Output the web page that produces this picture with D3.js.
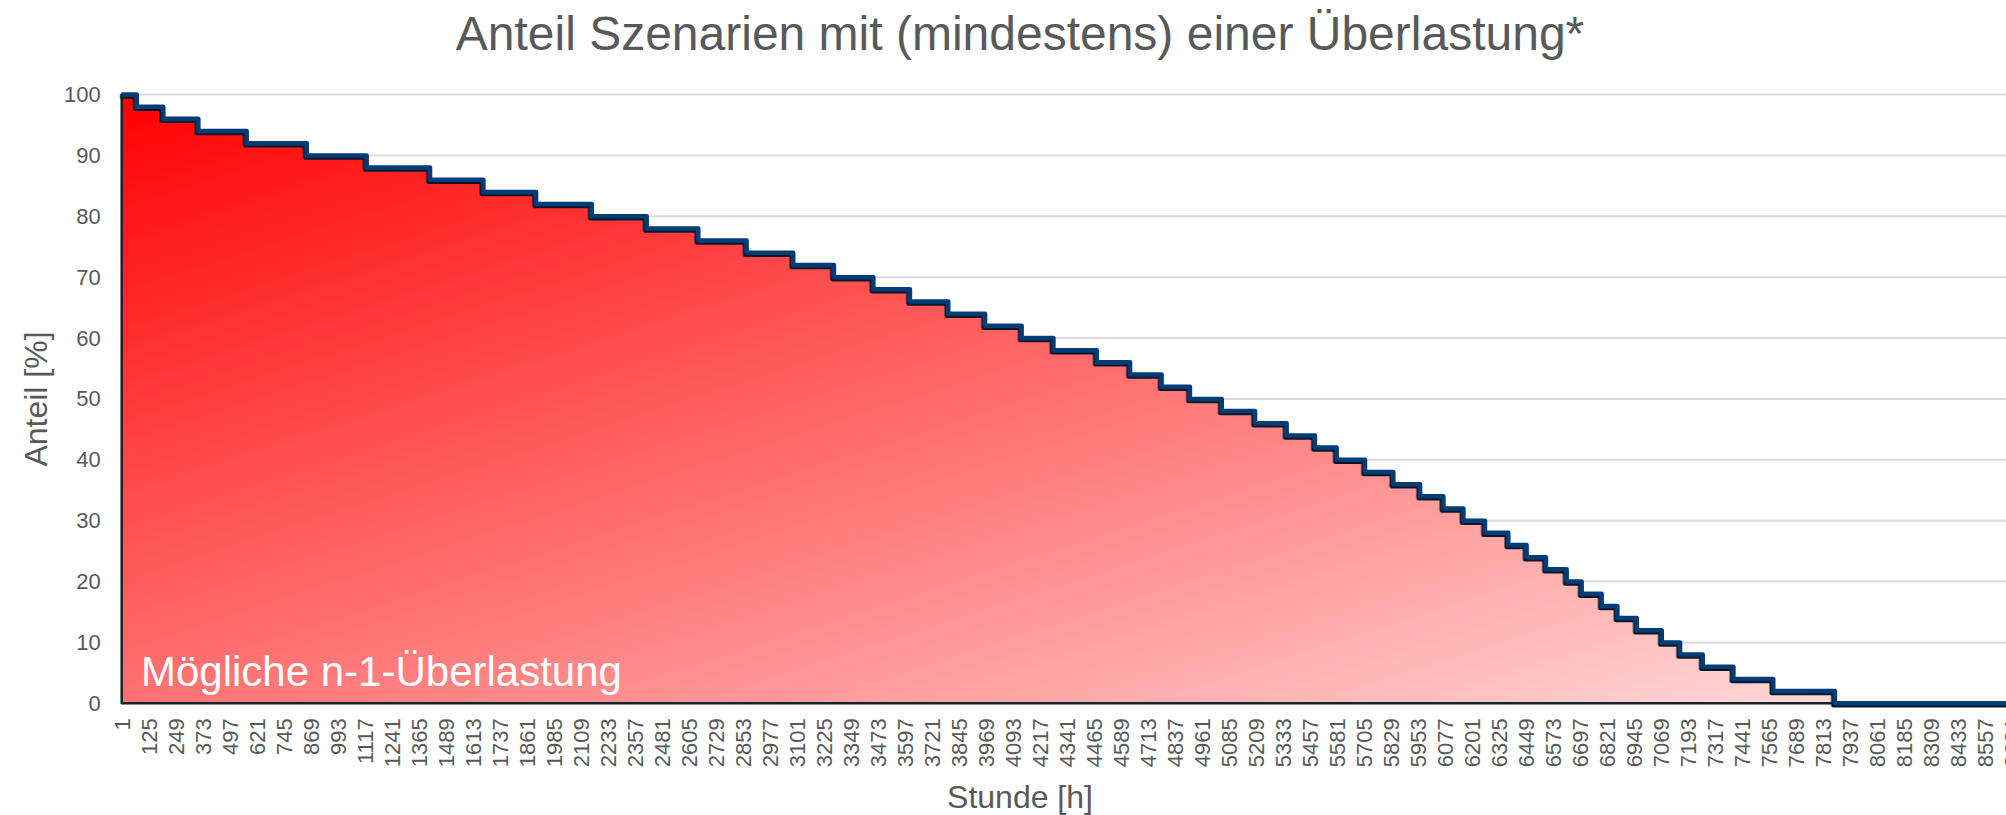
<!DOCTYPE html>
<html>
<head>
<meta charset="utf-8">
<script src="https://cdn.jsdelivr.net/npm/d3@7"></script>
<style>
  body { margin: 0; background: #fff; }
  text { font-family: "Liberation Sans", Arial, sans-serif; fill: #595959; }
</style>
</head>
<body>
<div id="chart"></div>
<script>
// hour at which each new level starts (sorted duration curve)
var stepHours = [1, 70, 192, 353, 575, 851, 1126, 1417, 1662, 1904,
  2160, 2412, 2649, 2871, 3085, 3272, 3453, 3621, 3797, 3966,
  4134, 4280, 4479, 4632, 4777, 4907, 5053, 5206, 5351, 5481,
  5581, 5711, 5841, 5964, 6071, 6163, 6262, 6369, 6453, 6542,
  6637, 6706, 6798, 6870, 6959, 7074, 7158, 7262, 7403, 7586,
  7869];
// share of scenarios (%) from that hour on
var stepShare = [100, 98, 96, 94, 92, 90, 88, 86, 84, 82,
  80, 78, 76, 74, 72, 70, 68, 66, 64, 62,
  60, 58, 56, 54, 52, 50, 48, 46, 44, 42,
  40, 38, 36, 34, 32, 30, 28, 26, 24, 22,
  20, 18, 16, 14, 12, 10, 8, 6, 4, 2,
  0];
var lastHour = 8760;
var yTicks = [0, 10, 20, 30, 40, 50, 60, 70, 80, 90, 100];
var xTickStep = 124;
var xTicks = d3.range(1, lastHour + 1, xTickStep);

var titleText = "Anteil Szenarien mit (mindestens) einer Überlastung*";
var xTitle = "Stunde [h]";
var yTitle = "Anteil [%]";
var areaLabel = "Mögliche n-1-Überlastung";

var svgWidth = 2006;
var svgHeight = 815;

var margin = { top: 94.5, left: 121.7, bottom: 703.3 };
var pxPerTick = 27.0;

var svg = d3.select("#chart")
  .append("svg")
  .attr("width", svgWidth)
  .attr("height", svgHeight);

var defs = svg.append("defs");

var grad = defs.append("linearGradient")
  .attr("id", "fillGrad")
  .attr("x1", 0).attr("y1", 0)
  .attr("x2", 1).attr("y2", 1);
grad.append("stop").attr("offset", "0%").attr("stop-color", "#ff0000");
grad.append("stop").attr("offset", "100%").attr("stop-color", "#ffe4e4");

defs.append("filter")
  .attr("id", "shadow")
  .attr("x", "-5%").attr("y", "-5%")
  .attr("width", "110%").attr("height", "110%")
  .append("feDropShadow")
  .attr("dx", -1.5)
  .attr("dy", 2)
  .attr("stdDeviation", 0.7)
  .attr("flood-color", "#0b1620")
  .attr("flood-opacity", 1);

var xScale = d3.scaleLinear()
  .domain([1, lastHour])
  .range([margin.left, margin.left + (lastHour - 1) * pxPerTick / xTickStep]);

var yScale = d3.scaleLinear()
  .domain([0, 100])
  .range([margin.bottom, margin.top]);

var points = stepHours.map(function(h, i) {
  return { hour: h, share: stepShare[i] };
});
points.push({ hour: lastHour, share: stepShare[stepShare.length - 1] });

// gridlines
svg.append("g")
  .selectAll("line")
  .data(yTicks)
  .enter()
  .append("line")
  .attr("x1", margin.left)
  .attr("x2", svgWidth)
  .attr("y1", d => yScale(d))
  .attr("y2", d => yScale(d))
  .attr("stroke", "#d9d9d9")
  .attr("stroke-width", 2);

// area
var area = d3.area()
  .curve(d3.curveStepAfter)
  .x(d => xScale(d.hour))
  .y0(yScale(0))
  .y1(d => yScale(d.share));

svg.append("path")
  .datum(points)
  .attr("d", area)
  .attr("fill", "url(#fillGrad)")
  .attr("stroke", "#16232d")
  .attr("stroke-width", 2.5)
  .attr("stroke-linejoin", "round");

// line on top
var line = d3.line()
  .curve(d3.curveStepAfter)
  .x(d => xScale(d.hour))
  .y(d => yScale(d.share));

svg.append("path")
  .datum(points)
  .attr("d", line)
  .attr("fill", "none")
  .attr("stroke", "#003c78")
  .attr("stroke-width", 4.5)
  .attr("stroke-linejoin", "round")
  .attr("filter", "url(#shadow)");

// y axis
var yAxis = svg.append("g")
  .attr("transform", `translate(${margin.left}, 0)`)
  .call(d3.axisLeft(yScale).tickValues(yTicks).tickSize(0).tickPadding(21));
yAxis.select(".domain").remove();
yAxis.selectAll("text")
  .attr("font-size", 22)
  .attr("fill", "#595959")
  .style("font-family", "Liberation Sans, Arial, sans-serif");

// x axis, labels rotated
var xAxis = svg.append("g")
  .attr("transform", `translate(0, ${margin.bottom})`)
  .call(d3.axisBottom(xScale).tickValues(xTicks).tickSize(0).tickFormat(d3.format("d")));
xAxis.select(".domain").remove();
xAxis.selectAll("text")
  .attr("font-size", 22)
  .attr("fill", "#595959")
  .style("font-family", "Liberation Sans, Arial, sans-serif")
  .attr("transform", "rotate(-90)")
  .attr("text-anchor", "end")
  .attr("x", -15)
  .attr("y", 0)
  .attr("dy", "0.35em");

// titles
svg.append("text")
  .attr("x", 1020)
  .attr("y", 50)
  .attr("text-anchor", "middle")
  .attr("font-size", 48)
  .text(titleText);

svg.append("text")
  .attr("x", 1020)
  .attr("y", 808)
  .attr("text-anchor", "middle")
  .attr("font-size", 32)
  .text(xTitle);

svg.append("text")
  .attr("transform", "translate(47, 399) rotate(-90)")
  .attr("text-anchor", "middle")
  .attr("font-size", 32)
  .text(yTitle);

svg.append("text")
  .attr("x", 141)
  .attr("y", 686)
  .attr("font-size", 42)
  .style("fill", "#ffffff")
  .text(areaLabel);
</script>
</body>
</html>
